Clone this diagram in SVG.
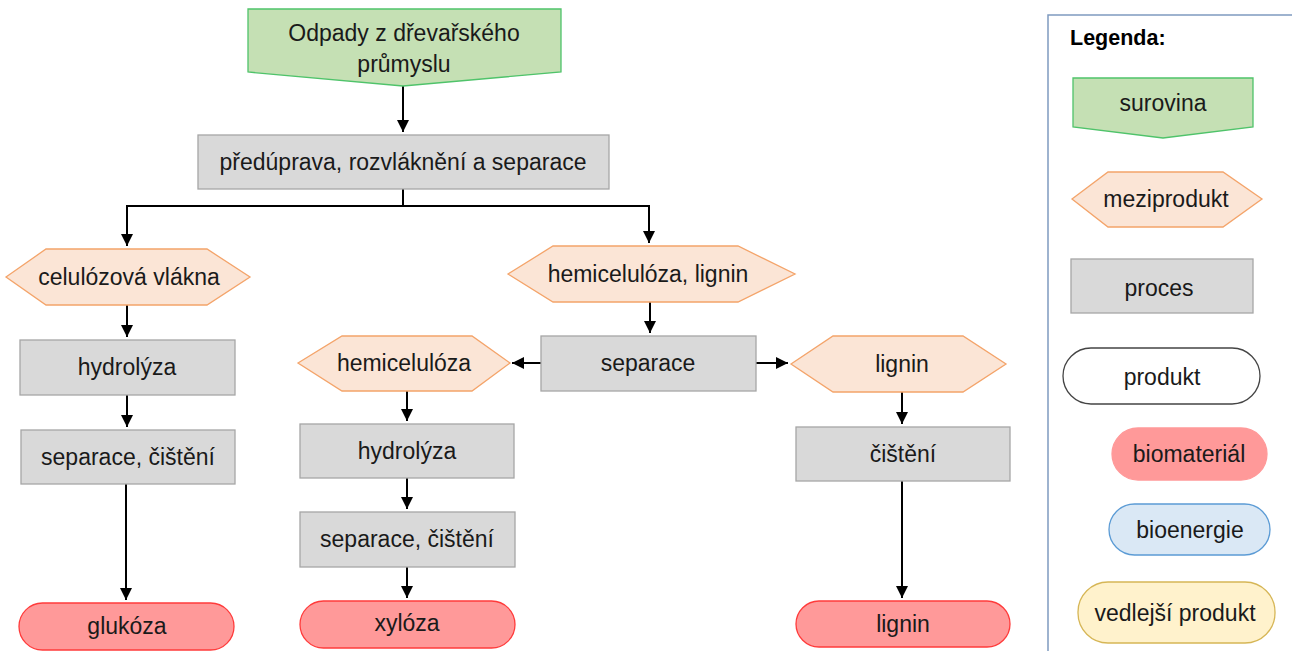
<svg xmlns="http://www.w3.org/2000/svg" width="1292" height="651" viewBox="0 0 1292 651">
<defs>
<marker id="ah" viewBox="0 0 10 10" refX="10" refY="5" markerWidth="6" markerHeight="6" markerUnits="strokeWidth" orient="auto"><path d="M0,0 L10,5 L0,10 z" fill="#000"/></marker>
<style>
text{font-family:"Liberation Sans",Arial,sans-serif;font-size:23px;fill:#1a1a1a;text-anchor:middle}
.raw{fill:#c5e0b4;stroke:#4fc36a;stroke-width:1.3}
.mid{fill:#fbe5d6;stroke:#f4a46a;stroke-width:1.3}
.proc{fill:#d9d9d9;stroke:#a6a6a6;stroke-width:1.3}
.bio{fill:#ff9999;stroke:#ff3b3b;stroke-width:1.3}
.prod{fill:#fff;stroke:#444;stroke-width:1.3}
.ene{fill:#dae8f5;stroke:#5b9bd5;stroke-width:1.3}
.side{fill:#fff2cc;stroke:#d6b656;stroke-width:1.3}
.c{fill:none;stroke:#000;stroke-width:2}
</style>
</defs>
<g id="connectors">
<path class="c" d="M403,86 V132" marker-end="url(#ah)"/>
<path class="c" d="M403,189 V206 H127 V246" marker-end="url(#ah)"/>
<path class="c" d="M403,206 H649 V243" marker-end="url(#ah)"/>
<path class="c" d="M127,305 V337" marker-end="url(#ah)"/>
<path class="c" d="M127,395 V427" marker-end="url(#ah)"/>
<path class="c" d="M126,484 V600" marker-end="url(#ah)"/>
<path class="c" d="M650,302 V333" marker-end="url(#ah)"/>
<path class="c" d="M541,363 H512" marker-end="url(#ah)"/>
<path class="c" d="M756,363 H788" marker-end="url(#ah)"/>
<path class="c" d="M407,391 V421" marker-end="url(#ah)"/>
<path class="c" d="M407,478 V509" marker-end="url(#ah)"/>
<path class="c" d="M407,567 V598" marker-end="url(#ah)"/>
<path class="c" d="M902,392 V424" marker-end="url(#ah)"/>
<path class="c" d="M902,481 V598" marker-end="url(#ah)"/>
</g>
<g id="n-odpady">
<polygon class="raw" points="248,9 561,9 561,72 403,86 248,72"/>
<text x="404" y="41">Odpady z dřevařského</text>
<text x="404" y="72">průmyslu</text>
</g>
<g id="n-preduprava">
<rect class="proc" x="198" y="135" width="411" height="54"/>
<text x="403" y="170">předúprava, rozvláknění a separace</text>
</g>
<g id="n-celulozova">
<polygon class="mid" points="6,277 46,249 207,249 250,277 207,305 46,305"/>
<text x="129" y="285">celulózová vlákna</text>
</g>
<g id="n-hydrolyza1">
<rect class="proc" x="20" y="340" width="215" height="55"/>
<text x="127" y="375">hydrolýza</text>
</g>
<g id="n-separace1">
<rect class="proc" x="21" y="430" width="214" height="54"/>
<text x="128" y="465">separace, čištění</text>
</g>
<g id="n-glukoza">
<rect class="bio" x="19" y="603" width="215" height="47" rx="23.5"/>
<text x="127" y="634">glukóza</text>
</g>
<g id="n-hemilignin">
<polygon class="mid" points="508,274 553,246 738,246 795,274 738,302 553,302"/>
<text x="648" y="282">hemicelulóza, lignin</text>
</g>
<g id="n-separace2">
<rect class="proc" x="541" y="336" width="215" height="55"/>
<text x="648" y="371">separace</text>
</g>
<g id="n-hemicelulozy">
<polygon class="mid" points="298,363 342,336 472,336 510,363 472,391 342,391"/>
<text x="404" y="371">hemicelulóza</text>
</g>
<g id="n-hydrolyza2">
<rect class="proc" x="300" y="424" width="214" height="54"/>
<text x="407" y="459">hydrolýza</text>
</g>
<g id="n-separace3">
<rect class="proc" x="300" y="512" width="215" height="55"/>
<text x="407" y="547">separace, čištění</text>
</g>
<g id="n-xyloza">
<rect class="bio" x="300" y="601" width="215" height="47" rx="23.5"/>
<text x="407" y="631">xylóza</text>
</g>
<g id="n-lignin-mid">
<polygon class="mid" points="791,364 833,336 963,336 1006,364 963,392 833,392"/>
<text x="902" y="372">lignin</text>
</g>
<g id="n-cisteni">
<rect class="proc" x="796" y="427" width="214" height="54"/>
<text x="903" y="462">čištění</text>
</g>
<g id="n-lignin-prod">
<rect class="bio" x="796" y="601" width="214" height="46" rx="23"/>
<text x="903" y="632">lignin</text>
</g>
<g id="legend">
<path d="M1048,651 V15 H1292" fill="none" stroke="#7f9bc0" stroke-width="1.5"/>
<text x="1070" y="45" style="text-anchor:start;font-weight:bold;font-size:21.5px;fill:#000">Legenda:</text>
<polygon class="raw" points="1073,78 1253,78 1253,127 1163,138 1073,127"/>
<text x="1163" y="111">surovina</text>
<polygon class="mid" points="1072,199 1108,172 1223,172 1262,199 1223,227 1108,227"/>
<text x="1166" y="207">meziprodukt</text>
<rect class="proc" x="1071" y="259" width="182" height="54"/>
<text x="1159" y="296">proces</text>
<rect class="prod" x="1063" y="348" width="197" height="56" rx="28"/>
<text x="1162" y="385">produkt</text>
<rect class="bio" x="1112" y="428" width="155" height="52" rx="26" style="stroke:#ff9999"/>
<text x="1189" y="462">biomateriál</text>
<rect class="ene" x="1109" y="504" width="161" height="51" rx="25.5"/>
<text x="1190" y="538">bioenergie</text>
<rect class="side" x="1078" y="582" width="197" height="61" rx="30"/>
<text x="1175" y="621">vedlejší produkt</text>
</g>
</svg>
